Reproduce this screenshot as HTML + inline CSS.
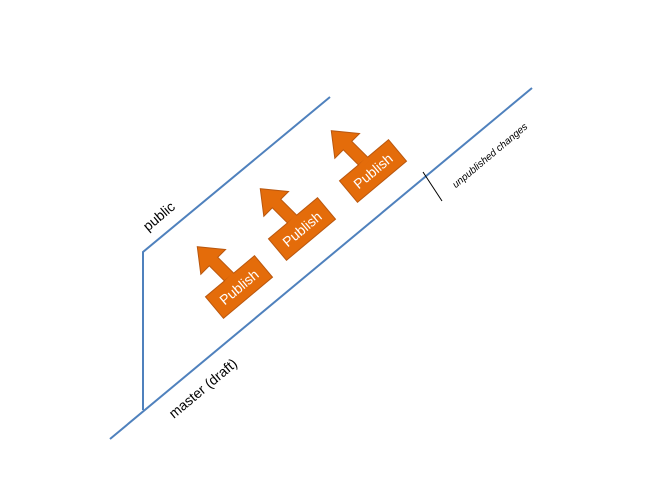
<!DOCTYPE html>
<html><head><style>
html,body{margin:0;padding:0;background:#fff;}
svg text{font-family:"Liberation Sans",sans-serif;}
</style></head><body>
<svg width="650" height="488" viewBox="0 0 650 488" xmlns="http://www.w3.org/2000/svg">
<g stroke="#4F81BD" stroke-width="2" fill="none">
<line x1="110" y1="439" x2="532" y2="88"/>
<polyline points="143,410 143,252 330,97"/>
</g>
<line x1="423" y1="172" x2="442" y2="201" stroke="#000" stroke-width="1"/>
<text x="0" y="0" font-size="14" fill="#000" transform="translate(162,220) rotate(-40)" text-anchor="middle">public</text>
<text x="0" y="0" font-size="14" fill="#000" transform="translate(206,392) rotate(-40)" text-anchor="middle">master (draft)</text>
<text x="0" y="0" font-size="10" font-style="italic" fill="#000" transform="translate(492,158) rotate(-40)" text-anchor="middle">unpublished changes</text>
<defs>
<g id="pub">
<g transform="rotate(-5)">
<path d="M-6,-10 L-6,-36 L-18,-36 L-1,-58 L17,-36 L6,-36 L6,-10 Z" fill="#E46C0A" stroke="#B9570F" stroke-width="1"/>
</g>
<rect x="-32" y="-14" width="64" height="28" fill="#E46C0A" stroke="#B9570F" stroke-width="1"/>
<path d="M-5.5,-14.5 L5.5,-14.5 L5.5,-10 L-5.5,-10 Z" fill="#E46C0A" transform="rotate(-5)"/>
</g>
</defs>
<g transform="translate(239,287) rotate(-40)"><use href="#pub"/><text x="0" y="5" font-size="14" fill="#fff" text-anchor="middle">Publish</text></g>
<g transform="translate(302,229) rotate(-40)"><use href="#pub"/><text x="0" y="5" font-size="14" fill="#fff" text-anchor="middle">Publish</text></g>
<g transform="translate(373,171) rotate(-40)"><use href="#pub"/><text x="0" y="5" font-size="14" fill="#fff" text-anchor="middle">Publish</text></g>
</svg>
</body></html>
